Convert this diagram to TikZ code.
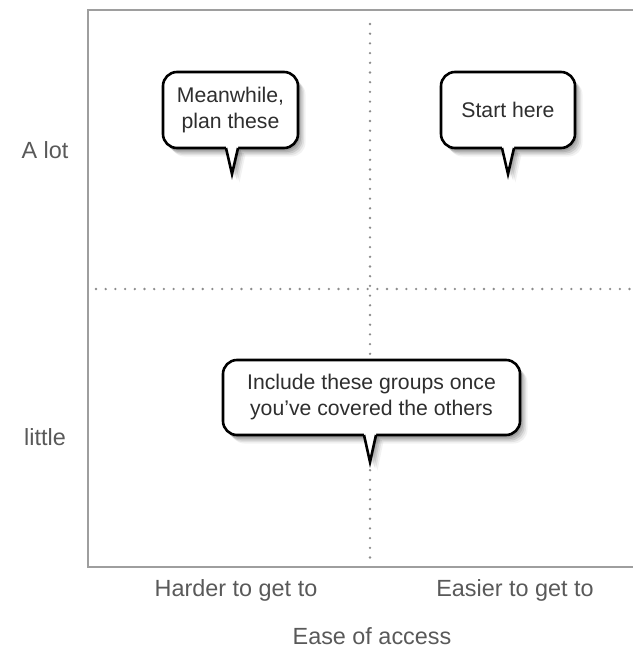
\documentclass[tikz,border=0pt]{standalone}
\usepackage{fontspec}
\setmainfont{Liberation Sans}
\newcommand\speech[8]{%
  \foreach \d/\o in {1.5/0.12,3/0.11,4.5/0.10,6/0.07,7.5/0.05}{%
    \fill[black,opacity=\o,rounded corners=7pt,shift={(\d,\d+1)}] (#2,#3) rectangle (#4,#5);
    \fill[black,opacity=\o,shift={(\d,\d+1)}] (#6-6,#5-2) -- (#6,#7) -- (#6+6,#5-2) -- cycle;
  }
  \draw[bubble,rounded corners=7pt] (#2,#3) rectangle (#4,#5);
  \fill[white] (#6-6,#5-3) -- (#6-6,#5) -- (#6,#7) -- (#6+6,#5) -- (#6+6,#5-3) -- cycle;
  \draw[tail] (#6-6,#5) -- (#6,#7) -- (#6+6,#5);
  \node[bubbletext] (#1) at ({(#2+#4)/2},{(#3+#5)/2}) {#8};
}
\begin{document}
\begin{tikzpicture}[x=0.5pt,y=-0.5pt,
  frame/.style={draw=black!38, line width=1.2pt},
  dotline/.style={draw=black!45, line width=1.3pt, line cap=round, dash pattern=on 0pt off 4.85pt},
  axislabel/.style={text=black!65, font=\fontsize{11.7}{14}\selectfont},
  bubbletext/.style={text=black!82, font=\fontsize{10.6}{13}\selectfont, align=center},
  bubble/.style={draw=black, line width=1.3pt, fill=white},
  tail/.style={draw=black, line width=1.3pt, line join=miter},
]
\useasboundingbox (0,0) rectangle (632,647);
% frame
\coordinate (tr) at (640,10);
\coordinate (tl) at (88,10);
\coordinate (bl) at (88,567);
\coordinate (br) at (640,567);
\draw[frame] (tr) -- (tl) -- (bl) -- (br);
% dotted dividers
\coordinate (vt) at (370,24);
\coordinate (vb) at (370,560);
\coordinate (hl) at (96,289);
\coordinate (hr) at (632,289);
\draw[dotline] (vt) -- (vb);
\draw[dotline] (hl) -- (hr);
% bubbles
\speech{meanwhile}{163}{72}{298}{148}{232}{174}{Meanwhile,\\plan these}
\speech{start}{441}{72}{575}{148}{508}{174}{Start here}
\speech{include}{223}{360}{520}{435}{370}{462}{Include these groups once\\you’ve covered the others}
% axis labels
\node[axislabel] (alot) at (45,150) {A lot};
\node[axislabel] (little) at (45,437) {little};
\node[axislabel] (harder) at (236,590) {Harder to get to};
\node[axislabel] (easier) at (515,590) {Easier to get to};
\node[axislabel] (ease) at (372,636) {Ease of access};
\end{tikzpicture}
\end{document}
